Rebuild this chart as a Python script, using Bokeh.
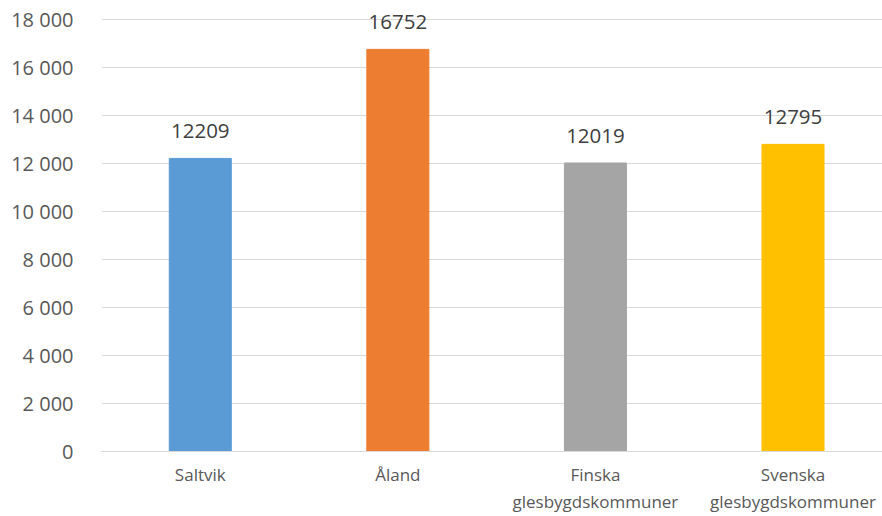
from bokeh.plotting import figure
from bokeh.models import ColumnDataSource, FixedTicker, Range1d, LabelSet
from bokeh.embed import file_html
from bokeh.resources import INLINE
from bokeh.core.properties import value

categories = ["Saltvik", "Åland", "Finska\nglesbygdskommuner", "Svenska\nglesbygdskommuner"]
values = [12209, 16752, 12019, 12795]
colors = ["#5B9BD5", "#ED7D31", "#A5A5A5", "#FFC000"]
y_ticks = [0, 2000, 4000, 6000, 8000, 10000, 12000, 14000, 16000, 18000]
y_tick_labels = ["0", "2 000", "4 000", "6 000", "8 000", "10 000", "12 000", "14 000", "16 000", "18 000"]

xs = [i + 0.5 for i in range(len(categories))]
src = ColumnDataSource(dict(x=xs, top=values, color=colors, label=[str(v) for v in values]))

p = figure(width=882, height=516, output_backend="svg", toolbar_location=None,
           x_range=Range1d(0, 3.953), y_range=Range1d(0, 18580),
           min_border_left=101, min_border_right=0, min_border_top=5, min_border_bottom=0)
p.vbar(x="x", top="top", width=0.314, color="color", source=src)

labels = LabelSet(x="x", y="top", text="label", source=src, text_align="center",
                  text_baseline="middle", y_offset=27, text_font=value("Open Sans"),
                  text_font_size="20.5px", text_color="#404040")
p.add_layout(labels)

p.outline_line_color = None
p.xgrid.grid_line_color = None
p.ygrid.grid_line_color = "#D9D9D9"
p.ygrid.grid_line_width = 1
p.ygrid.ticker = FixedTicker(ticks=y_ticks)

p.yaxis.ticker = FixedTicker(ticks=y_ticks)
p.yaxis.major_label_overrides = {t: l for t, l in zip(y_ticks, y_tick_labels)}
p.yaxis.axis_line_color = None
p.yaxis.major_tick_line_color = None
p.yaxis.minor_tick_line_color = None
p.yaxis.major_label_standoff = 22
p.yaxis.major_label_text_font = "Open Sans"
p.yaxis.major_label_text_font_size = "20px"
p.yaxis.major_label_text_color = "#595959"

p.xaxis.ticker = FixedTicker(ticks=xs)
p.xaxis.major_label_overrides = {x: c for x, c in zip(xs, categories)}
p.xaxis.axis_line_color = "#D9D9D9"
p.xaxis.major_tick_line_color = None
p.xaxis.minor_tick_line_color = None
p.xaxis.major_label_standoff = 5
p.xaxis.major_label_text_font = "Open Sans"
p.xaxis.major_label_text_font_size = "17px"
p.xaxis.major_label_text_color = "#595959"

open("out.html", "w").write(file_html(p, INLINE))
